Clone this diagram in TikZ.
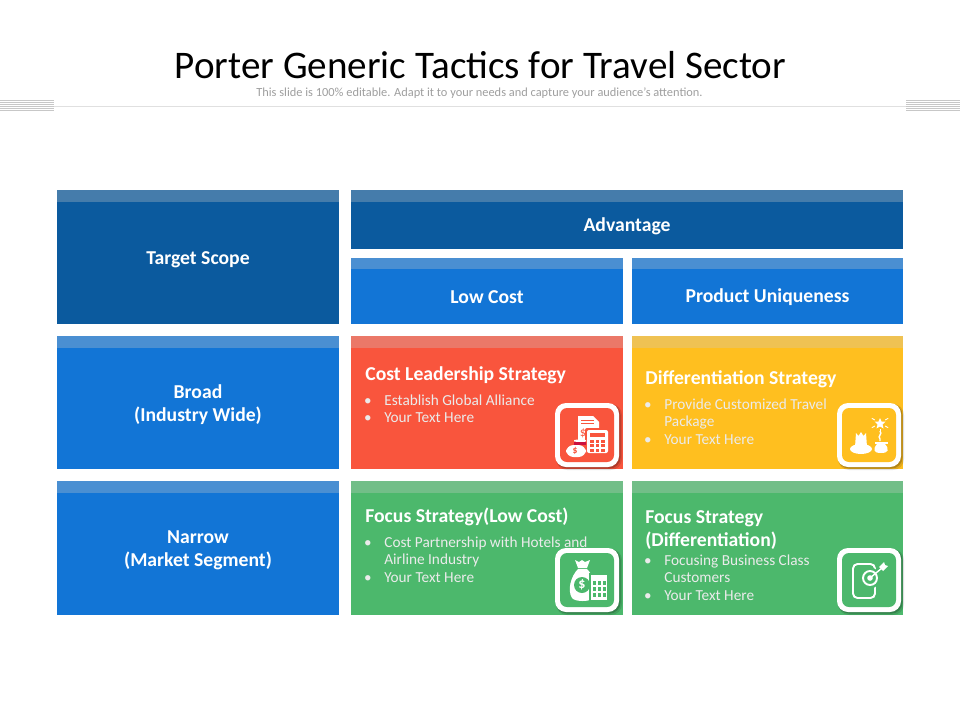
\documentclass[tikz,border=0pt]{standalone}
\usepackage{fontspec}
\setmainfont{Carlito}
\definecolor{navy}{HTML}{0B5A9E}
\definecolor{azure}{HTML}{1275D6}
\definecolor{tomato}{HTML}{F9553D}
\definecolor{amber}{HTML}{FFBF1F}
\definecolor{leaf}{HTML}{4CB86C}
\tikzset{
  x=0.02cm,y=-0.02cm,
  head/.style={white,font=\fontsize{11.2}{13}\selectfont\bfseries,align=center},
  strategy/.style={white,anchor=base west,inner sep=0pt,font=\fontsize{11.2}{13}\selectfont\bfseries},
  item/.style={white!92!black,anchor=base west,inner sep=0pt,font=\fontsize{8.7}{10}\selectfont},
  dot/.style={white!92!black,anchor=base,inner sep=0pt,font=\fontsize{8.6}{10}\selectfont},
  glyph/.style={fill=white,draw=none},
}
% one coloured panel with its lighter strip
\newcommand{\panel}[6]{
  \fill[#5] (#1,#2) rectangle (#3,#4);
  \fill[white!80!black,opacity=.3] (#1,#2) rectangle (#3,#2+#6);
}
% frame round an icon
\newcommand{\iconframe}[3]{
  \fill[black,opacity=.12,rounded corners=2.2mm] (#1+1,#2+1) rectangle (#1+67,#2+67);
  \fill[black,opacity=.2,rounded corners=2.2mm] (#1+1,#2+1) rectangle (#1+65.5,#2+65.5);
  \fill[white,rounded corners=2.2mm] (#1,#2) rectangle (#1+64,#2+64);
  \fill[#3,rounded corners=1.4mm] (#1+5,#2+5) rectangle (#1+59,#2+59);
}
\begin{document}
\begin{tikzpicture}
\useasboundingbox (0,0) rectangle (960,720);

% header
\node[anchor=base,font=\fontsize{22.25}{24}\selectfont] (title) at (480.5,78.5) {Porter Generic Tactics for Travel Sector};
\node[anchor=base,text=black!38,font=\fontsize{7.05}{9}\selectfont] (subtitle) at (479.5,96) {This slide is 100\% editable. Adapt it to your needs and capture your audience's attention.};
\draw[black!12,line width=.5pt] (54,106)--(906,106);
\foreach \d in {0,906}{
\foreach \y in {100,102,...,110}{
\draw[black!22,line width=.3pt] (\d,\y)--(\d+54,\y);
}
}

% panels
\panel{57}{190}{339}{324}{navy}{12}
\panel{351}{190}{903}{249}{navy}{12}
\panel{351}{258}{623}{324}{azure}{11}
\panel{632}{258}{903}{324}{azure}{11}
\panel{57}{336}{339}{469}{azure}{12}
\panel{351}{336}{623}{469}{tomato}{12}
\panel{632}{336}{903}{469}{amber}{12}
\panel{57}{481}{339}{615}{azure}{12}
\panel{351}{481}{623}{615}{leaf}{12}
\panel{632}{481}{903}{615}{leaf}{12}

% headings
\node[head] (scope) at (198,259.5) {Target Scope};
\node[head] (advantage) at (627,226) {Advantage};
\node[head] (lowcost) at (487,297) {Low Cost};
\node[head] (unique) at (767.5,297) {Product Uniqueness};
\node[head] (broad) at (198,404.5) {Broad\\(Industry Wide)};
\node[head] (narrow) at (198,550.5) {Narrow\\(Market Segment)};

% strategy titles
\node[strategy] (cost) at (365,380) {Cost Leadership Strategy};
\node[strategy] (diff) at (645,384) {Differentiation Strategy};
\node[strategy] (focuslow) at (365,522) {Focus Strategy(Low Cost)};
\node[strategy] (focusdiff) at (645,523) {Focus Strategy};
\node[strategy] (focusdiffb) at (645,546) {(Differentiation)};

% bullet text
\foreach \n/\x/\y/\t in {
  a/384/405/Establish Global Alliance,
  b/384/422/Your Text Here,
  c/664/409/Provide Customized Travel,
  e/664/444/Your Text Here,
  f/384/547/Cost Partnership with Hotels and,
  h/384/582/Your Text Here,
  i/664/565/Focusing Business Class,
  k/664/600/Your Text Here}{
\node[item] (item\n) at (\x,\y) {\t};
\node[dot] (dot\n) at (\x-16,\y) {•};
}
\node[item] (itemd) at (664,426) {Package};
\node[item] (itemg) at (384,564) {Airline Industry};
\node[item] (itemj) at (664,582) {Customers};

% icon frames
\iconframe{555}{403}{tomato}
\iconframe{837}{403}{amber}
\iconframe{555}{548}{leaf}
\iconframe{837}{548}{leaf}

% bill, calculator, coin
\fill[glyph] (578,416)--(593,416)--(599,422)--(599,438)--(586,442)--(578,442)--cycle;
\foreach \y in {420,423}{
\draw[tomato,line width=.4pt] (581,\y)--(594,\y);
}
\node[tomato,font=\fontsize{7}{7}\selectfont] (billsign) at (583,433) {\$};
\fill[tomato,rounded corners=.4mm] (585,428) rectangle (610,455);
\fill[glyph,rounded corners=.4mm] (587,430) rectangle (608,453);
\fill[tomato] (590,433) rectangle (605,437);
\foreach \x in {590,595.5,601}{
\foreach \y in {439.5,444,448.5}{
\fill[tomato] (\x,\y) rectangle (\x+3.8,\y+3);
}
}
\fill[glyph,rounded corners=1.5mm] (566,445) rectangle (586,457);
\fill[glyph,rounded corners=.5mm] (574,439.5) rectangle (586,442);
\fill[purple!80!tomato] (574,442) rectangle (586,444.5);
\node[tomato,font=\fontsize{5.5}{5}\selectfont\bfseries] (coinsign) at (575,451) {\$};

% cakes and star
\fill[glyph] (861,449) ellipse (11 and 5);
\fill[glyph] (855,447)--(856,433)--(858.5,436)--(861,432)--(863.5,436)--(866,433)--(867,447)--cycle;
\fill[glyph] (875,442) rectangle (888,444);
\fill[glyph] (877,444)..controls (872,450) and (874,453)..(881,453)..controls (888,453) and (890,450)..(885,444)--cycle;
\fill[glyph] (880,418)--(881.5,421.5)--(885.5,421.5)--(882.5,424.5)--(883.5,428.5)--(880,426.5)--(876.5,428.5)--(877.5,424.5)--(874.5,421.5)--(878.5,421.5)--cycle;
\foreach \a in {30,90,150,210,330}{
\draw[white,line width=.5pt] (880,423)++(\a:6)--++(\a:3.5);
}
\draw[white,line width=.8pt] (880,431)..controls (883,434) and (877,436)..(880,439)--(880,441);

% money bag and building
\fill[glyph] (575,560)--(579,562)--(582,560)--(585,562)--(590,560)--(587,568)--(578,568)--cycle;
\fill[glyph] (578,569)..controls (571,576) and (567,590)..(572,598)..controls (575,602) and (590,602)..(594,598)..controls (599,590) and (594,576)..(587,569)--cycle;
\fill[leaf] (582,585) circle (8);
\node[white,font=\fontsize{8}{8}\selectfont\bfseries] (bagsign) at (582,585) {\$};
\fill[leaf] (589,573) rectangle (609,602);
\fill[glyph] (591,575) rectangle (607,600);
\foreach \x in {593,598,603}{
\foreach \y in {581,587,593}{
\fill[leaf] (\x,\y) rectangle (\x+3,\y+4);
}
}

% clipboard and target
\draw[white,line width=1.1pt,rounded corners=.9mm] (853,564) rectangle (875,598);
\draw[white,line width=1.3pt] (859,564)--(869,564);
\fill[leaf] (870,578) circle (10.5);
\draw[white,line width=1.1pt] (870,578) circle (7);
\fill[glyph] (870,578) circle (2.8);
\draw[white,line width=.8pt] (870,578)--(882,568);
\fill[glyph] (879,567)--(884,562)--(885,565)--(888,566)--(883,571)--cycle;
\end{tikzpicture}
\end{document}
